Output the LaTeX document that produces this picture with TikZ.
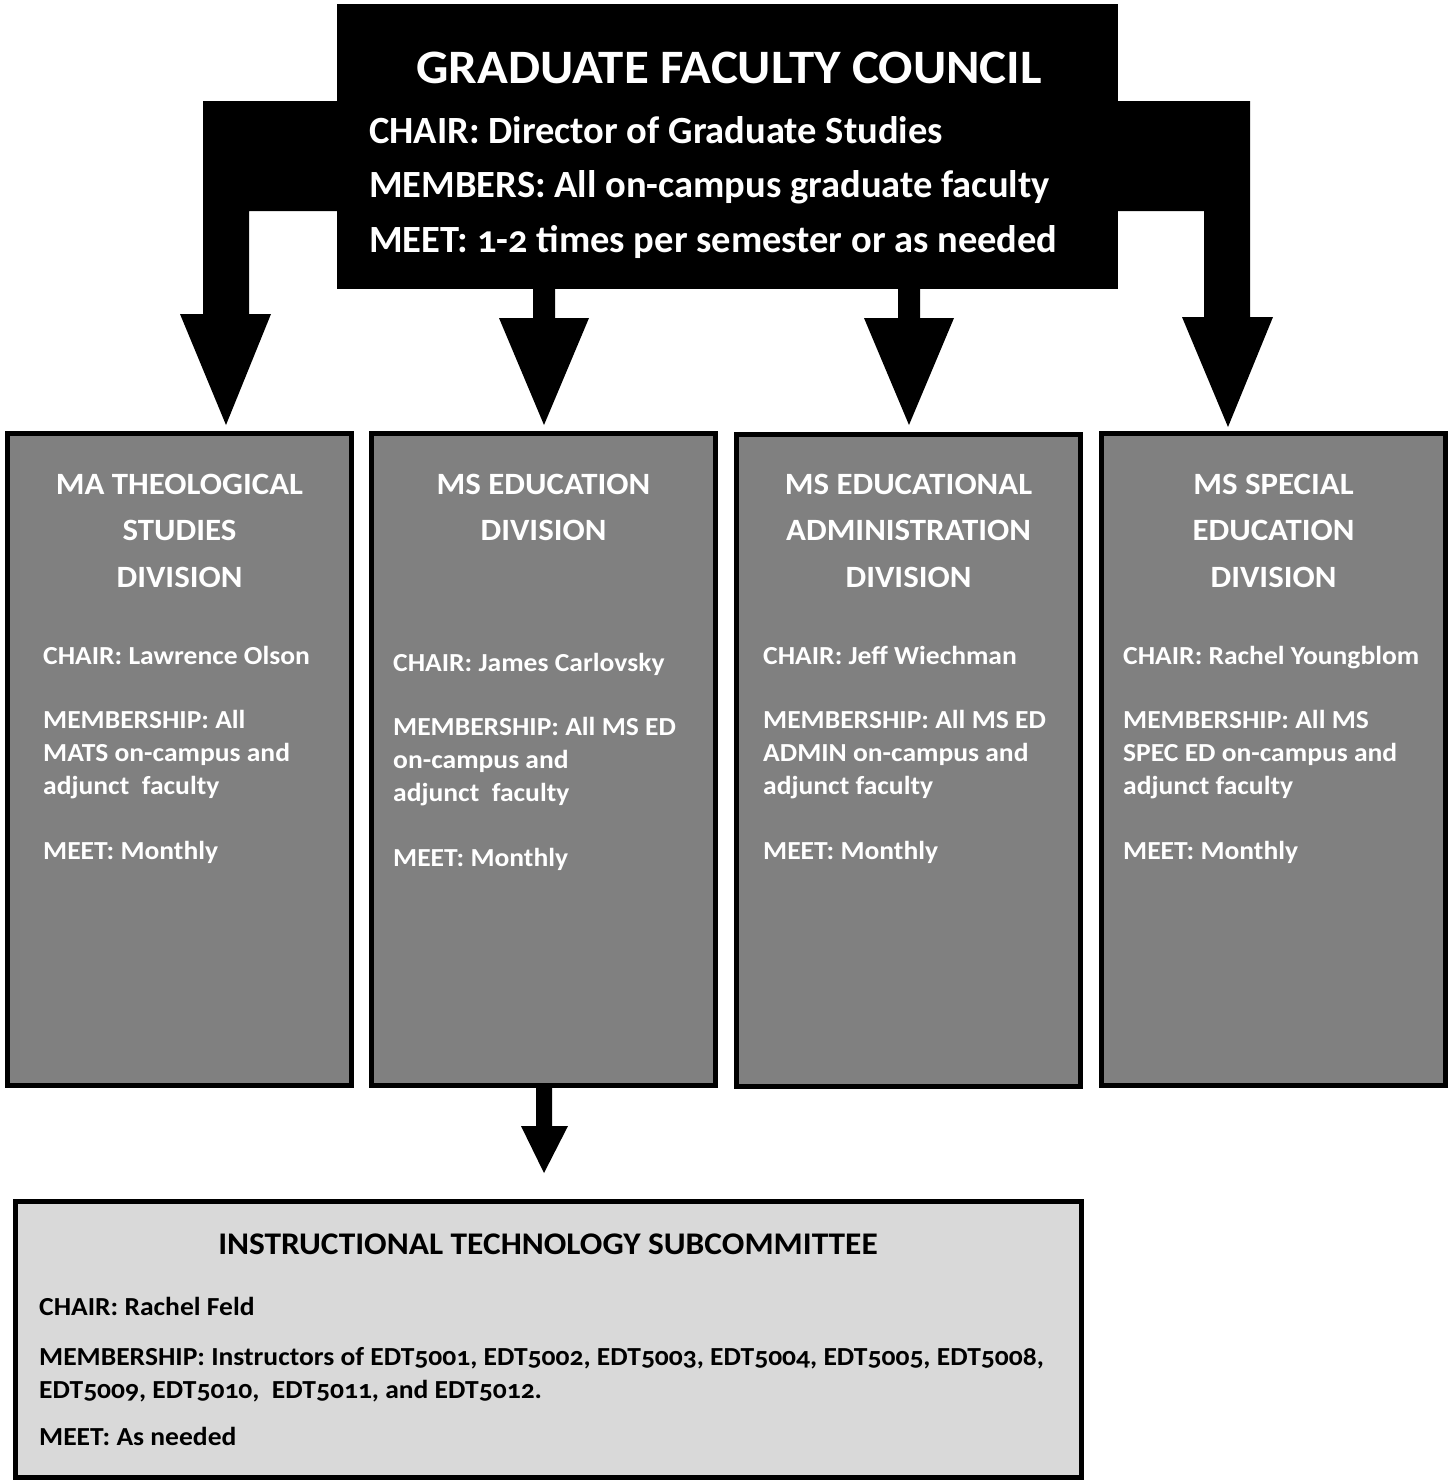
\documentclass[tikz,border=0pt]{standalone}
\usepackage{fontspec}
\setmainfont{Carlito}[Numbers=OldStyle]
\newfontfamily\widefont{Carlito}[Numbers=OldStyle, FakeStretch=1.06]
\usetikzlibrary{positioning}

\definecolor{divgray}{HTML}{808080}
\definecolor{subgray}{HTML}{D9D9D9}

\tikzset{
  council/.style={fill=black, inner sep=0pt, minimum width=781pt, minimum height=285pt},
  divbox/.style={draw=black, fill=divgray, line width=5pt, inner sep=0pt,
                 minimum width=344pt, minimum height=652pt},
  subbox/.style={draw=black, fill=subgray, line width=5pt, inner sep=0pt,
                 minimum width=1066pt, minimum height=276pt},
  bigtitle/.style={text=white, inner sep=0pt, anchor=base,
                   font=\widefont\bfseries\fontsize{48}{56}\selectfont},
  bigtext/.style={text=white, inner sep=0pt, anchor=base west, align=left,
                  font=\bfseries\fontsize{38.5}{54.5}\selectfont},
  divtitle/.style={text=white, inner sep=0pt, anchor=base, align=center,
                   font=\widefont\bfseries\fontsize{31}{46.5}\selectfont},
  divtext/.style={text=white, inner sep=0pt, anchor=base west, align=left,
                  font=\widefont\bfseries\fontsize{26}{32.7}\selectfont},
  subtitle/.style={inner sep=0pt, anchor=base,
                   font=\widefont\bfseries\fontsize{31.5}{40}\selectfont},
  subtext/.style={inner sep=0pt, anchor=base west, align=left,
                  font=\widefont\bfseries\fontsize{26}{33}\selectfont},
}

\begin{document}
\begin{tikzpicture}[x=1pt, y=-1pt]
    \useasboundingbox (0,0) rectangle (1453,1481);

    % Council box (multi-line nodes sit on their last baseline)
    \node[council] (gfc) at (727.5,146.5) {};
    \node[bigtitle] (gfctitle) at (729,83) {GRADUATE FACULTY COUNCIL};
    \node[bigtext] (gfcinfo) at (369,252) {CHAIR: Director of Graduate Studies\\
        MEMBERS: All on-campus graduate faculty\\
        MEET: 1-2 times per semester or as needed};

    % Bent arrows at the sides
    \fill (337,101) -- (203,101) -- (203,314) -- (180,314) -- (226,425)
        -- (271,314) -- (249,314) -- (249,211) -- (337,211) -- cycle;
    \fill (1118,101) -- (1250,101) -- (1250,317) -- (1273,317) -- (1228,427)
        -- (1182,317) -- (1204,317) -- (1204,211) -- (1118,211) -- cycle;

    % Straight arrows
    \fill (533,289) -- (533,318) -- (499,318) -- (544,425)
        -- (589,318) -- (555,318) -- (555,289) -- cycle;
    \fill (898,289) -- (898,318) -- (864,318) -- (909,425)
        -- (954,318) -- (920,318) -- (920,289) -- cycle;

    % Division boxes
    \node[divbox] (mats) at (179.5,759.5) {};
    \node[divbox] (msed) at (543.5,759.5) {};
    \node[divbox] (msea) at (908.5,760.5) {};
    \node[divbox] (msse) at (1273.5,759.5) {};

    \node[divtitle] (matstitle) at (179.5,587) {MA THEOLOGICAL\\STUDIES\\DIVISION};
    \node[divtitle] (msedtitle) at (543.5,540.5) {MS EDUCATION\\DIVISION};
    \node[divtitle] (mseatitle) at (908.5,587) {MS EDUCATIONAL\\ADMINISTRATION\\DIVISION};
    \node[divtitle] (mssetitle) at (1273.5,587) {MS SPECIAL\\EDUCATION\\DIVISION};

    \node[divtext] (matsinfo) at (43,859) {CHAIR: Lawrence Olson\\[32pt]
        MEMBERSHIP: All\\MATS on-campus and\\adjunct\ \ faculty\\[32pt]
        MEET: Monthly};
    \node[divtext] (msedinfo) at (393,866) {CHAIR: James Carlovsky\\[32pt]
        MEMBERSHIP: All MS ED\\on-campus and\\adjunct\ \ faculty\\[32pt]
        MEET: Monthly};
    \node[divtext] (mseainfo) at (763,859) {CHAIR: Jeff Wiechman\\[32pt]
        MEMBERSHIP: All MS ED\\ADMIN on-campus and\\adjunct faculty\\[32pt]
        MEET: Monthly};
    \node[divtext] (msseinfo) at (1123,859) {CHAIR: Rachel Youngblom\\[32pt]
        MEMBERSHIP: All MS\\SPEC ED on-campus and\\adjunct faculty\\[32pt]
        MEET: Monthly};

    % Arrow down to the subcommittee
    \fill (536,1088) -- (536,1126) -- (521,1126) -- (544,1173)
        -- (568,1126) -- (552,1126) -- (552,1088) -- cycle;

    % Subcommittee box
    \node[subbox] (itsc) at (548.5,1339.5) {};
    \node[subtitle] (itsctitle) at (548,1254) {INSTRUCTIONAL TECHNOLOGY SUBCOMMITTEE};
    \node[subtext] (itscinfo) at (39,1445) {CHAIR: Rachel Feld\\[17pt]
        MEMBERSHIP: Instructors of EDT5001, EDT5002, EDT5003, EDT5004, EDT5005, EDT5008,\\
        EDT5009, EDT5010,\ \ EDT5011, and EDT5012.\\[14pt]
        MEET: As needed};
\end{tikzpicture}
\end{document}
